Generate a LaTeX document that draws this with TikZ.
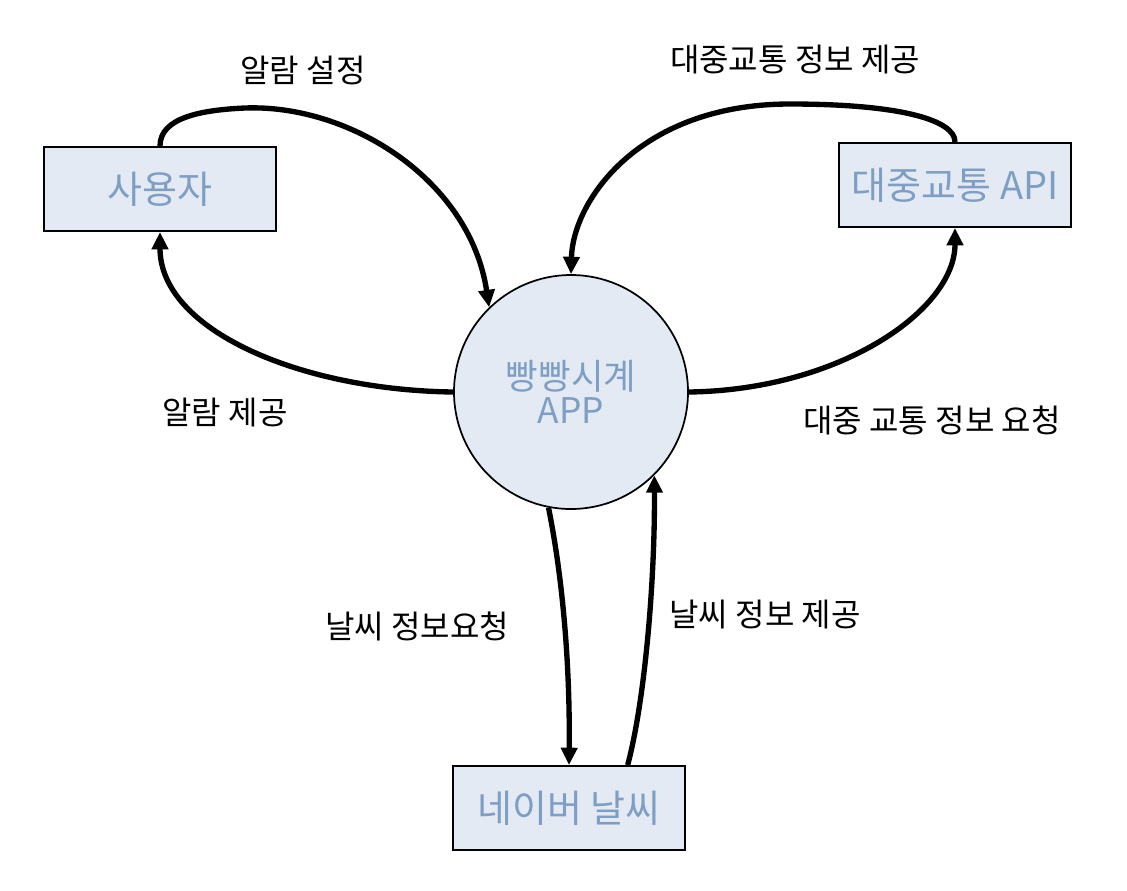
\documentclass[tikz,border=0pt]{standalone}
\usepackage{fontspec}
\setmainfont{Noto Sans CJK KR}
\usetikzlibrary{arrows.meta}
\definecolor{boxfill}{HTML}{E3EAF3}
\definecolor{boxtext}{HTML}{7F9EC3}
\begin{document}
\begin{tikzpicture}[x=0.75pt,y=-0.75pt,
  entity/.style={draw=black,line width=1.5pt,fill=boxfill,text=boxtext,
    minimum width=174pt,minimum height=63pt,inner sep=0pt,font=\fontsize{28.5}{32}\selectfont},
  proc/.style={draw=black,line width=1.3pt,fill=boxfill,text=boxtext,circle,
    minimum size=175.5pt,inner sep=0pt,align=center,font=\fontsize{26.5}{34}\selectfont},
  flow/.style={line width=4pt,-{Triangle[length=13pt,width=12pt]}},
  lbl/.style={font=\fontsize{24}{28}\selectfont,text=black,inner sep=0pt}]
\useasboundingbox[fill=white] (0,0) rectangle (1127,890);
\node[entity] (user) at (160,189) {사용자};
\node[entity] (api) at (955,185) {대중교통 API};
\node[entity] (naver) at (569,808) {네이버 날씨};
\node[proc] (app) at (571,392) {빵빵시계\\[-8pt]APP};
% flows
\draw[flow] (user.north) .. controls (160,118) and (200,110) .. (245,108)
  .. controls (350,104) and (470,180) .. (app.134);
\draw[flow] (app.west) .. controls (300,390) and (160,330) .. (user.south);
\draw[flow] (api.north) .. controls (955,120) and (900,104) .. (790,104)
  .. controls (640,104) and (573,200) .. (app.north);
\draw[flow] (app.east) .. controls (840,390) and (955,310) .. (api.south);
\draw[flow] (app.259) .. controls (565,590) and (570,680) .. (naver.north);
\draw[flow] ([xshift=44pt]naver.north) .. controls (645,700) and (655,580) .. (app.-45);
% labels
\node[lbl] (l1) at (303,70) {알람 설정};
\node[lbl] (l2) at (795,60) {대중교통 정보 제공};
\node[lbl] (l3) at (225,413) {알람 제공};
\node[lbl] (l4) at (932,420) {대중 교통 정보 요청};
\node[lbl] (l5) at (417,626) {날씨 정보요청};
\node[lbl] (l6) at (765,615) {날씨 정보 제공};
\end{tikzpicture}
\end{document}
